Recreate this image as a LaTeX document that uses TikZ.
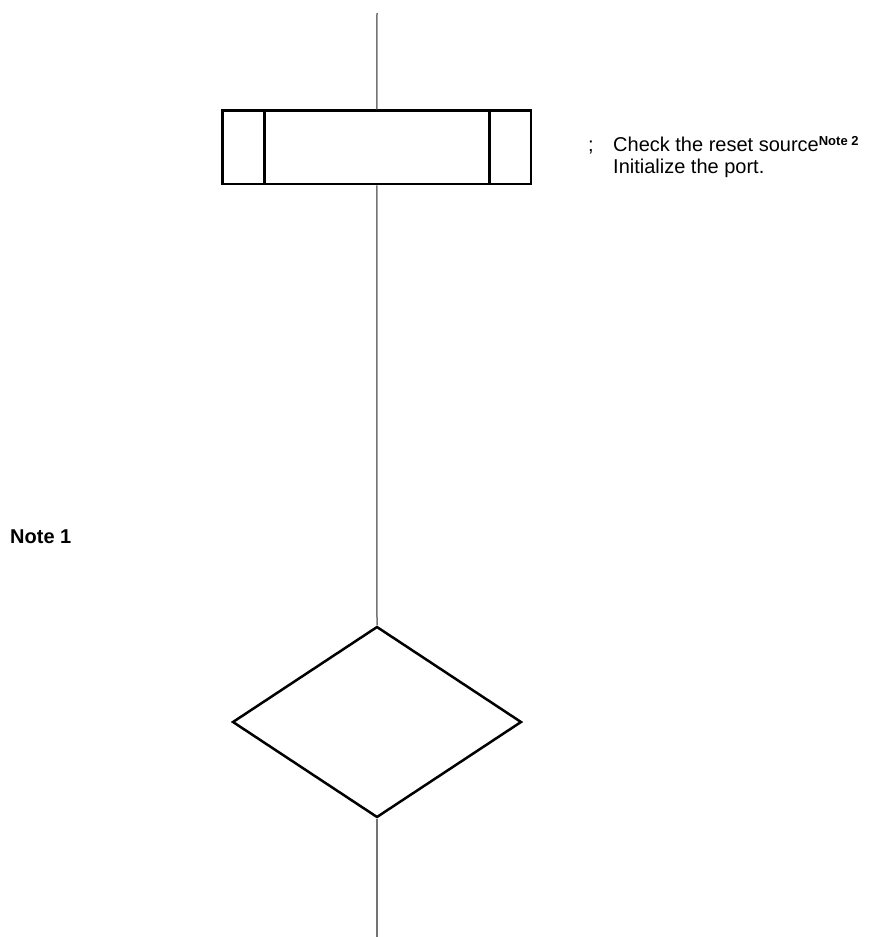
\documentclass[tikz,border=0pt]{standalone}
\usepackage{fontspec}
\setmainfont{Liberation Sans}
\usetikzlibrary{shapes.geometric}
\begin{document}
\begin{tikzpicture}[
  x=1pt,y=-1pt,
  flow/.style={draw=black!55,line width=1.5pt},
  procbox/.style={draw,line width=2.5pt,rectangle,inner sep=0pt,
    minimum width=308.5pt,minimum height=73.5pt,
    path picture={
      \draw[line width=2.5pt] ([xshift=42pt]path picture bounding box.north west)
        -- ([xshift=42pt]path picture bounding box.south west);
      \draw[line width=2.5pt] ([xshift=-41.5pt]path picture bounding box.north east)
        -- ([xshift=-41.5pt]path picture bounding box.south east);
    }},
  decision/.style={draw,line width=2.5pt,diamond,inner sep=0pt,aspect=1.51,
    minimum width=289pt,minimum height=191pt},
  remark/.style={anchor=base west,inner sep=0pt,font=\fontsize{20}{22}\selectfont}
]
\useasboundingbox (0,0) rectangle (875,937);
\coordinate (top) at (377,13);
\coordinate (bot) at (377,937);
\node[procbox] (init) at (376.75,147.25) {};
\node[decision] (chk) at (377,722) {};
\draw[flow] (top) -- (init.north);
\draw[flow] (init.south) -- (chk.north);
\draw[flow] (chk.south) -- (bot);
% comments
\node[remark] (semi) at (588,151) {;};
\node[remark] (c1) at (613,151) {Check the reset source\raisebox{6pt}{\fontsize{13}{13}\selectfont\bfseries Note 2}};
\node[remark] (c2) at (613,173) {Initialize the port.};
\node[remark,font=\fontsize{20}{22}\selectfont\bfseries] (note1) at (10,543) {Note 1};
\end{tikzpicture}
\end{document}
